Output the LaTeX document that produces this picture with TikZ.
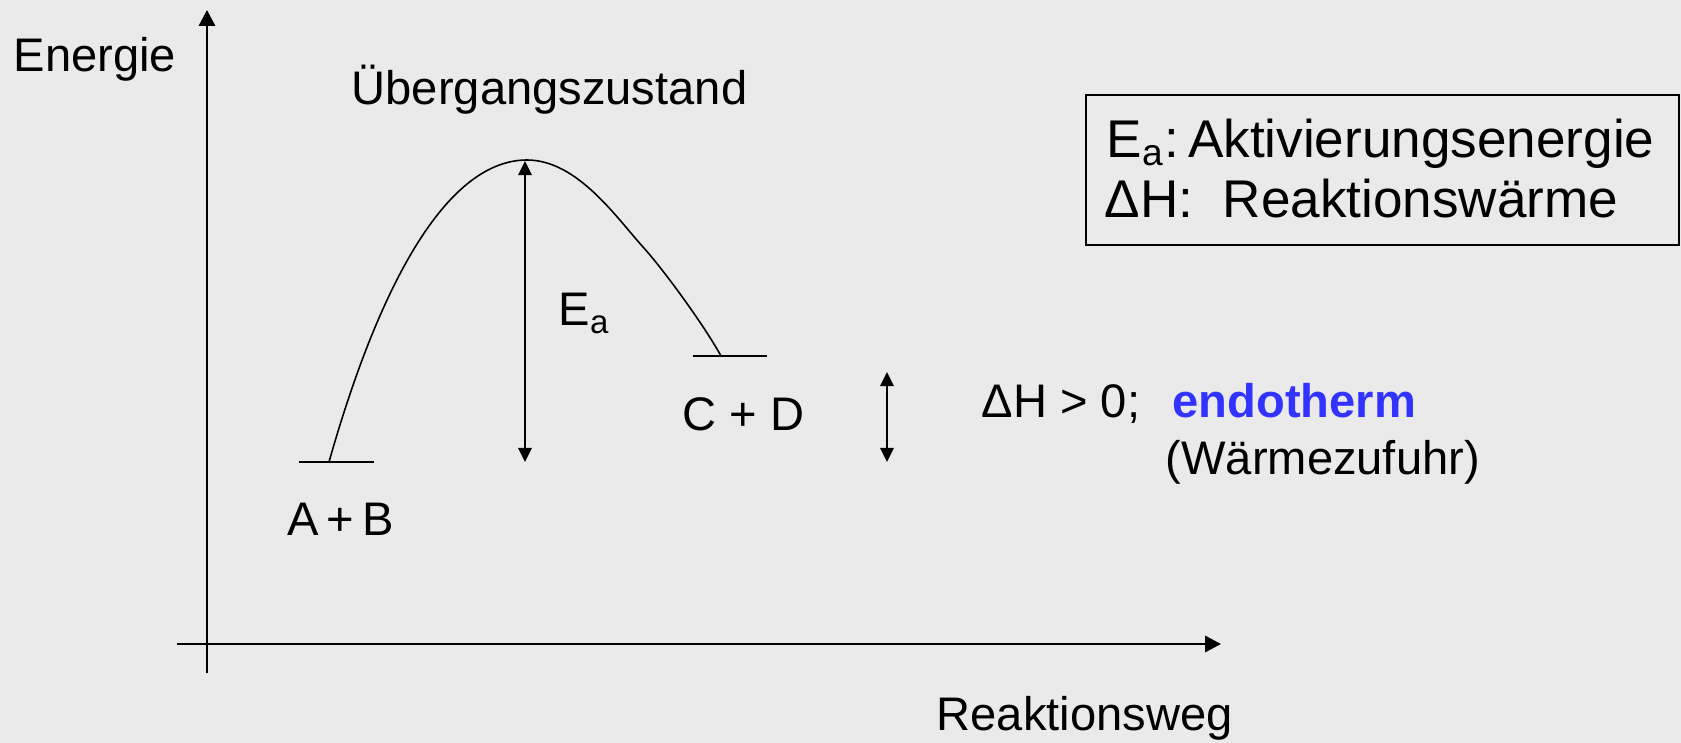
\documentclass[tikz,border=0pt]{standalone}
\usepackage{fontspec}
\setmainfont{Liberation Sans}
\usetikzlibrary{arrows.meta}
\definecolor{bgcol}{HTML}{EAEAEA}
\definecolor{endoblue}{HTML}{3333FF}
\begin{document}
\begin{tikzpicture}[x=0.01cm,y=-0.01cm,
  lbl/.style={inner sep=0pt,anchor=base west,font=\fontsize{13.4pt}{16pt}\selectfont},
  boxlbl/.style={inner sep=0pt,anchor=base west,font=\fontsize{15.1pt}{18pt}\selectfont},
  axisline/.style={line width=0.6pt,-{Triangle[length=4.5pt,width=4.6pt]}},
  dblarrow/.style={line width=0.5pt,{Triangle[length=4pt,width=3.8pt]}-{Triangle[length=4pt,width=3.8pt]}},
  thinline/.style={line width=0.45pt}]
\useasboundingbox[fill=bgcol] (0,0) rectangle (1681,743);
% axes
\coordinate (ybot) at (207,673);
\coordinate (ytop) at (207,10);
\coordinate (xleft) at (177,644);
\coordinate (xright) at (1221,644);
\draw[axisline] (ybot) -- (ytop);
\draw[axisline] (xleft) -- (xright);
% labels of axes
\node[lbl] (energie) at (13,72) {Energie};
\node[lbl] (weg) at (936,731) {Reaktionsweg};
\node[lbl] (ueber) at (351,105) {Übergangszustand};
% energy levels
\coordinate (abL) at (299,462);
\coordinate (abR) at (374,462);
\coordinate (cdL) at (693,356);
\coordinate (cdR) at (767,356);
\coordinate (abC) at (329,462);
\coordinate (peak) at (527,160);
\coordinate (shoulder) at (643,247);
\coordinate (cdC) at (721,356);
\draw[thinline] (abL) -- (abR);
\draw[thinline] (cdL) -- (cdR);
\node[lbl] (ab) at (287,536) {A\,+\,B};
\node[lbl] (cd) at (682,431) {C + D};
% reaction curve
\draw[thinline] (abC) .. controls (382,275) and (450,160) .. (peak)
  .. controls (577,160) and (616,217) .. (shoulder)
  .. controls (663,269) and (704,325) .. (cdC);
% activation energy arrow
\coordinate (eatop) at (525,161);
\coordinate (eabot) at (525,462);
\draw[dblarrow] (eabot) -- (eatop);
\node[lbl] (ea) at (558,326) {E\textsubscript{a}};
% enthalpy arrow
\coordinate (dhtop) at (887,372);
\coordinate (dhbot) at (887,462);
\draw[dblarrow] (dhbot) -- (dhtop);
\node[lbl] (dh) at (981,418) {ΔH > 0;};
\node[lbl,text=endoblue,font=\fontsize{13.4pt}{16pt}\selectfont\bfseries] (endo) at (1172,418) {endotherm};
\node[lbl] (waerme) at (1165,475) {(Wärmezufuhr)};
% legend box
\node[draw,line width=0.45pt,inner sep=0pt,anchor=north west,minimum width=5.93cm,minimum height=1.5cm] (legend) at (1085,94) {};
\node[boxlbl] (leg1) at (1106,158) {E\textsubscript{a}:\,Aktivierungsenergie};
\node[boxlbl] (leg2) at (1104,218) {ΔH:\ \ Reaktionswärme};
\end{tikzpicture}
\end{document}
